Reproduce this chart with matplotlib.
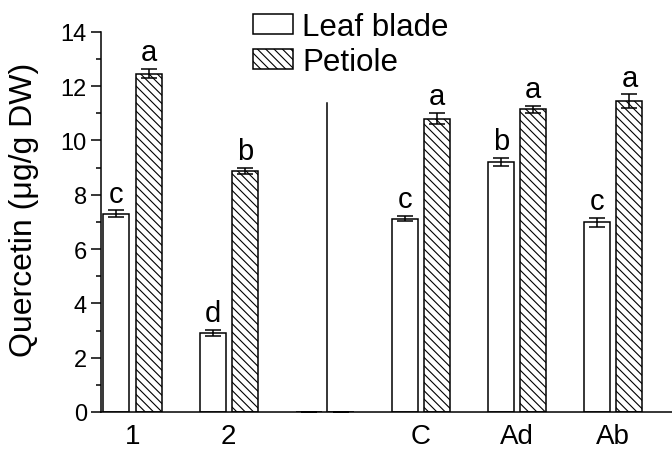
import matplotlib.pyplot as plt
import numpy as np
from matplotlib.ticker import MultipleLocator

plt.rcParams['font.family'] = ['Liberation Sans', 'DejaVu Sans']
plt.rcParams['hatch.linewidth'] = 0.8

groups = ["1", "2", "", "C", "Ad", "Ab"]
leaf = [7.31, 2.91, 0, 7.12, 9.22, 6.98]
leaf_err = [0.12, 0.11, 0, 0.10, 0.15, 0.18]
petiole = [12.46, 8.88, 0, 10.80, 11.15, 11.45]
petiole_err = [0.17, 0.12, 0, 0.21, 0.12, 0.25]
leaf_letters = ["c", "d", "", "c", "b", "c"]
petiole_letters = ["a", "b", "", "a", "a", "a"]

fig = plt.figure(figsize=(6.72, 4.52), dpi=100)
ax = fig.add_axes([0.150, 0.0863, 0.85, 0.841])

x = np.arange(len(groups))
w = 0.27
off = 0.167
err_kw = dict(ecolor="black", elinewidth=1.1, capsize=5.5, capthick=1.1)
ax.bar(x - off, leaf, w, yerr=leaf_err, color="white", edgecolor="black",
       linewidth=1.1, error_kw=err_kw, label="Leaf blade")
ax.bar(x + off, petiole, w, yerr=petiole_err, color="white", edgecolor="black",
       linewidth=1.1, hatch="\\\\\\\\", error_kw=err_kw, label="Petiole")

for i in range(len(groups)):
    if leaf_letters[i]:
        ax.text(x[i] - off, leaf[i] + leaf_err[i] + 0.32, leaf_letters[i],
                ha="center", va="baseline", fontsize=21)
    if petiole_letters[i]:
        ax.text(x[i] + off, petiole[i] + petiole_err[i] + 0.32, petiole_letters[i],
                ha="center", va="baseline", fontsize=21)

# separator between the two experiments
ax.plot([2.02, 2.02], [0, 11.37], color="black", lw=1.1)

ax.set_xlim(-0.33, 5.61)
ax.set_ylim(0, 14)
ax.set_xticks(x)
ax.set_xticklabels(groups, fontsize=20)
ax.tick_params(axis="x", length=0, pad=8)
ax.yaxis.set_major_locator(MultipleLocator(2))
ax.yaxis.set_minor_locator(MultipleLocator(1))
ax.tick_params(axis="y", which="major", length=7, width=1.1, labelsize=17, pad=3)
ax.tick_params(axis="y", which="minor", length=3.5, width=1.1)
for s in ["top", "right"]:
    ax.spines[s].set_visible(False)
for s in ["left", "bottom"]:
    ax.spines[s].set_linewidth(1.1)
ax.set_ylabel("Quercetin (μg/g DW)", fontsize=23)
ax.yaxis.set_label_coords(-0.108, 0.535)

fig.legend(loc="upper left", bbox_to_anchor=(253 / 672, 1 - 13 / 452),
           frameon=False, fontsize=22.5, handlelength=1.28, handleheight=0.6,
           handletextpad=0.3, labelspacing=0.15, borderpad=0, borderaxespad=0)

fig.savefig("out.png", dpi=100)
